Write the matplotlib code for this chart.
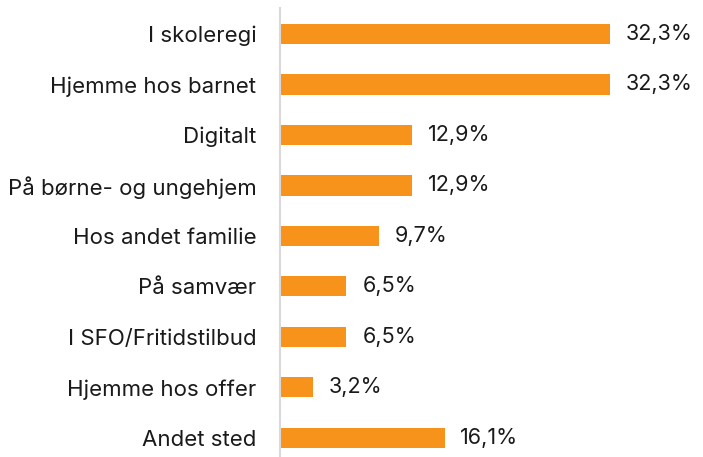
import matplotlib.pyplot as plt

categories = ["I skoleregi", "Hjemme hos barnet", "Digitalt", "På børne- og ungehjem",
              "Hos andet familie", "På samvær", "I SFO/Fritidstilbud",
              "Hjemme hos offer", "Andet sted"]
values = [32.3, 32.3, 12.9, 12.9, 9.7, 6.5, 6.5, 3.2, 16.1]

plt.rcParams['font.family'] = ['Inter', 'DejaVu Sans']

W, H = 703, 457
fig = plt.figure(figsize=(W / 100, H / 100), dpi=100)
left, right = 280, 703
top, bottom = 8, 457
ax = fig.add_axes([left / W, 1 - bottom / H, (right - left) / W, (bottom - top) / H])

pos = list(range(len(categories)))
ax.barh(pos, values, height=0.4, color='#F7931A')
ax.set_ylim(len(categories) - 1 + 0.38, -0.515)
ax.set_xlim(0, (right - left) / 10.22)

# value labels just past the bar ends
for p, v in zip(pos, values):
    ax.text(v + 1.55, p, f"{v:.1f}%".replace('.', ','), va='center', ha='left',
            fontsize=15.5, color='#1a1a1a')

ax.set_yticks(pos)
ax.set_yticklabels(categories, fontsize=16, color='#1a1a1a')
ax.tick_params(axis='y', length=0, pad=17)
ax.set_xticks([])
for s in ['top', 'right', 'bottom']:
    ax.spines[s].set_visible(False)
ax.spines['left'].set_color('#D9D9D9')
ax.spines['left'].set_linewidth(1.5)

fig.savefig('out.png', dpi=100)
